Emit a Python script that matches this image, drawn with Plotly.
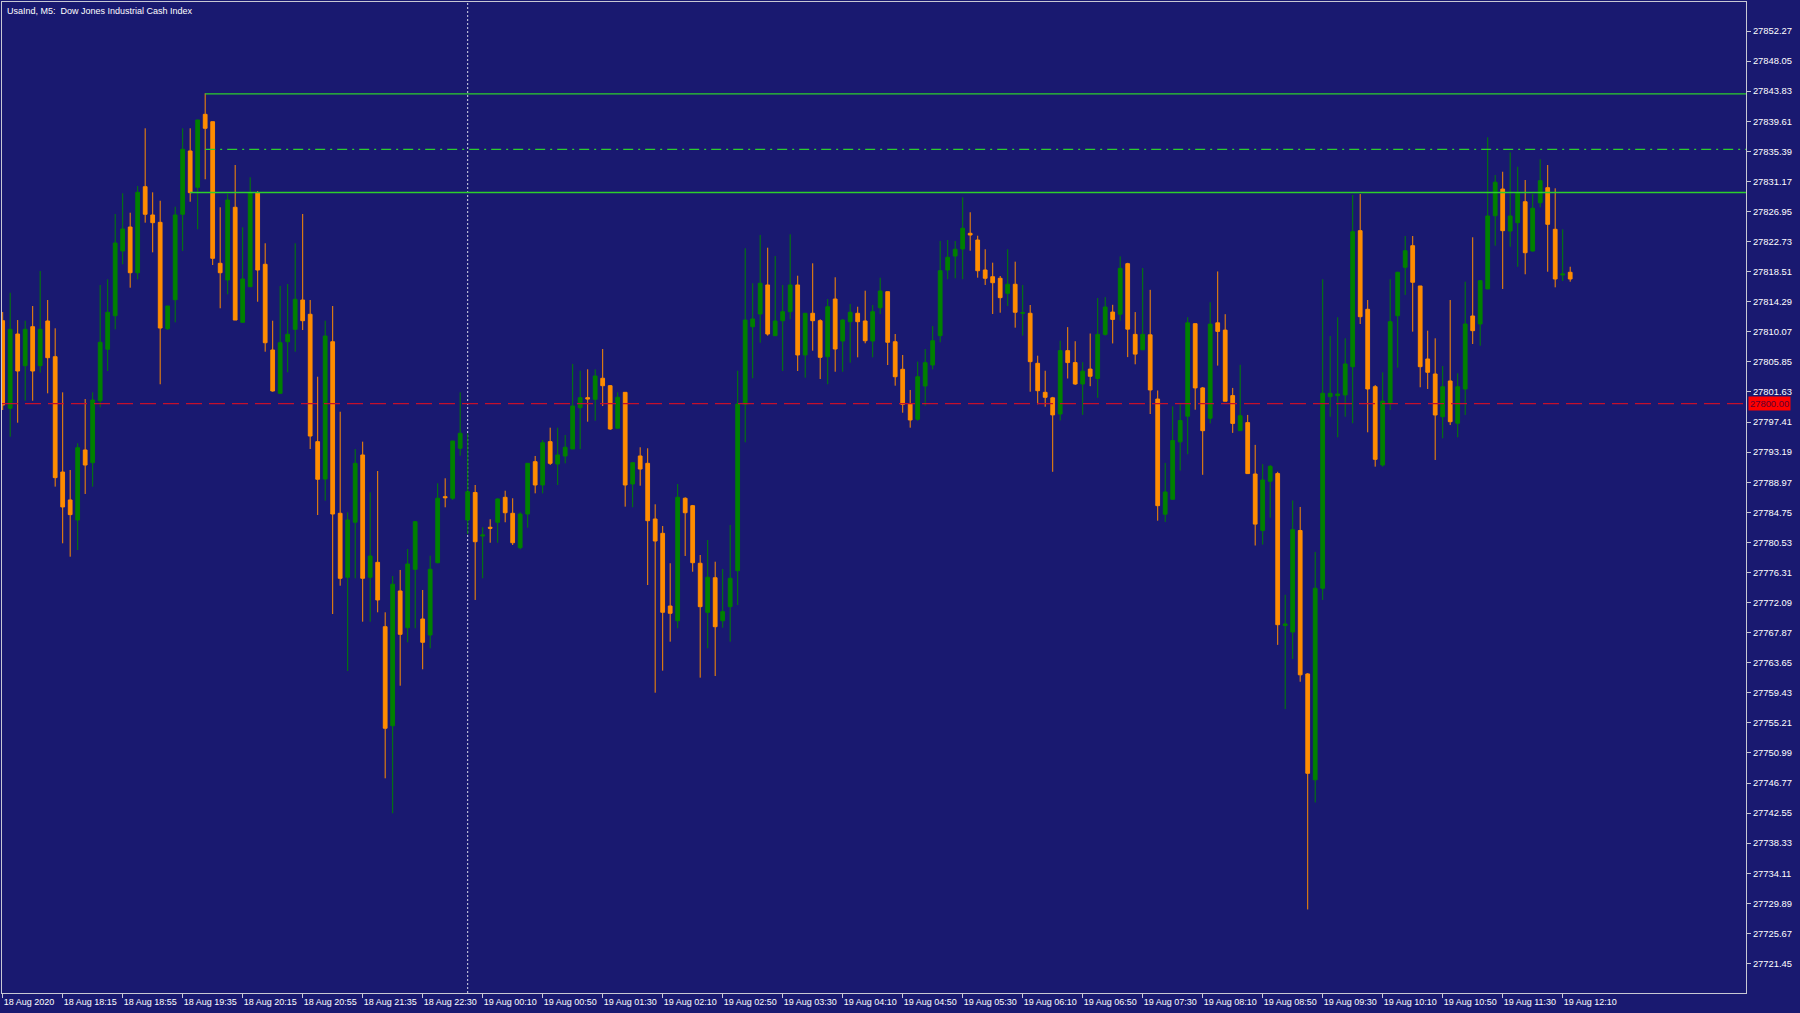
import plotly.graph_objects as go

title_text = "UsaInd, M5:  Dow Jones Industrial Cash Index"

open_ = [27811.63,27799.34,27809.76,27805.32,27810.79,27805.32,27811.59,27806.58,27790.40,27786.48,
27783.67,27793.49,27791.71,27800.40,27807.62,27812.33,27821.41,27824.77,27818.36,27830.43,
27826.46,27825.43,27810.51,27814.57,27826.56,27835.44,27830.34,27840.58,27839.55,27819.68,
27817.34,27827.54,27811.40,27816.40,27829.59,27819.54,27807.52,27801.44,27808.68,27810.42,
27814.53,27812.53,27794.66,27789.42,27808.68,27784.61,27775.63,27783.35,27792.79,27775.63,
27777.73,27768.70,27754.81,27773.71,27768.56,27776.75,27769.78,27767.54,27777.68,27786.94,
27786.72,27793.73,27783.67,27787.53,27781.42,27782.65,27783.35,27786.85,27784.61,27779.78,
27784.51,27791.85,27788.58,27794.66,27791.52,27792.65,27793.63,27799.42,27800.83,27800.60,
27803.55,27802.51,27796.54,27801.58,27788.72,27792.65,27791.62,27783.81,27781.80,27771.60,
27769.54,27786.72,27785.68,27777.60,27770.72,27775.57,27769.54,27771.51,27776.56,27799.90,
27810.79,27812.57,27816.64,27809.53,27811.63,27812.89,27816.64,27806.82,27812.67,27811.63,
27806.58,27814.67,27808.78,27811.49,27812.67,27811.59,27808.78,27813.45,27815.70,27808.68,
27804.81,27799.94,27797.80,27802.47,27805.41,27809.53,27818.74,27820.70,27821.69,27823.89,
27822.95,27818.74,27817.80,27817.58,27815.47,27816.74,27812.67,27812.67,27805.65,27801.58,
27800.81,27798.54,27807.43,27805.75,27802.75,27804.84,27803.52,27809.71,27812.84,27812.54,
27819.63,27809.71,27807.55,27809.65,27800.64,27784.48,27786.57,27794.63,27798.23,27811.21,
27802.20,27797.94,27811.33,27810.31,27801.12,27796.20,27797.33,27790.12,27782.20,27789.10,
27790.18,27768.86,27767.95,27782.20,27762.07,27747.22,27774.09,27800.97,27801.11,27801.21,
27805.18,27824.26,27813.23,27802.37,27791.38,27800.04,27812.33,27819.12,27822.15,27816.50,
27806.26,27804.15,27798.16,27803.17,27797.24,27802.05,27812.29,27811.17,27816.08,27826.36,
27830.10,27824.21,27825.38,27828.32,27821.41,27828.18,27830.29,27824.45,27818.04,27818.42]

high = [27812.85,27815.55,27811.72,27811.63,27813.69,27818.60,27814.53,27810.56,27801.58,27790.68,
27794.43,27800.64,27801.58,27816.64,27817.44,27826.60,27829.50,27826.78,27830.52,27838.62,
27829.64,27828.46,27813.69,27827.62,27838.62,27838.62,27839.79,27843.53,27839.55,27827.54,
27829.40,27833.47,27824.73,27831.75,27829.82,27822.49,27811.63,27816.50,27816.78,27822.49,
27826.60,27814.53,27803.77,27811.63,27813.69,27798.86,27784.75,27793.63,27794.66,27787.56,
27790.54,27770.72,27775.81,27776.66,27779.60,27783.53,27773.85,27778.66,27788.82,27789.52,
27794.75,27801.58,27795.83,27788.58,27782.65,27783.77,27786.72,27787.78,27786.72,27784.75,
27791.62,27792.65,27794.89,27796.62,27796.62,27795.59,27805.56,27804.61,27804.81,27804.81,
27807.66,27802.61,27801.58,27801.58,27791.76,27793.87,27793.73,27785.87,27782.83,27777.60,
27788.72,27786.85,27785.78,27778.76,27780.86,27777.82,27776.80,27782.97,27804.61,27821.79,
27816.88,27823.65,27821.87,27820.70,27816.64,27823.75,27817.94,27812.67,27819.68,27811.83,
27814.67,27817.72,27811.83,27813.97,27813.59,27815.84,27813.83,27817.66,27815.70,27809.76,
27806.82,27801.91,27805.88,27807.66,27810.88,27822.81,27822.95,27822.81,27828.94,27826.84,
27823.55,27821.65,27819.77,27817.90,27821.65,27819.91,27816.64,27813.83,27806.72,27804.61,
27800.94,27808.81,27810.73,27808.75,27805.81,27809.83,27814.81,27814.94,27813.86,27820.65,
27819.75,27812.84,27819.02,27815.96,27801.84,27791.68,27799.62,27799.91,27812.12,27811.21,
27802.33,27814.22,27818.54,27812.54,27802.20,27805.44,27798.41,27794.21,27791.51,27791.38,
27790.43,27773.18,27786.41,27785.50,27762.19,27779.19,27817.44,27809.48,27812.11,27809.16,
27829.26,27829.40,27814.53,27802.61,27804.39,27817.44,27818.50,27823.51,27823.51,27816.50,
27810.23,27809.16,27805.27,27814.53,27804.25,27817.10,27823.33,27817.34,27837.36,27832.07,
27832.53,27835.25,27833.23,27831.37,27829.40,27834.27,27833.47,27830.20,27824.45,27819.20]

low = [27799.10,27795.35,27797.32,27800.40,27800.40,27804.34,27801.44,27788.35,27780.40,27778.52,
27779.46,27787.32,27788.35,27799.48,27804.57,27810.42,27819.54,27816.26,27817.44,27825.38,
27821.22,27802.71,27810.32,27811.40,27821.41,27828.32,27824.45,27831.47,27819.44,27813.37,
27815.33,27811.72,27811.40,27816.40,27814.29,27807.28,27801.67,27801.44,27804.39,27807.28,
27810.32,27793.63,27784.37,27786.38,27770.48,27774.45,27762.48,27775.49,27769.40,27769.40,
27770.72,27747.43,27742.52,27760.42,27766.51,27768.48,27762.72,27765.67,27777.59,27785.45,
27786.48,27792.69,27781.70,27772.45,27775.49,27780.48,27780.48,27783.35,27780.16,27779.56,
27782.59,27787.41,27787.41,27791.38,27788.58,27791.62,27793.63,27793.63,27797.46,27797.60,
27799.66,27796.30,27796.54,27785.54,27785.45,27788.48,27774.55,27759.44,27762.53,27766.60,
27768.48,27778.62,27776.41,27761.55,27765.67,27761.78,27768.56,27766.60,27771.74,27794.57,
27803.55,27808.54,27809.53,27809.53,27804.57,27811.83,27804.57,27803.63,27807.42,27803.45,
27802.71,27804.47,27804.47,27805.74,27806.49,27808.46,27806.49,27812.57,27805.41,27802.51,
27798.72,27796.62,27797.60,27799.70,27804.81,27808.60,27817.44,27817.58,27817.44,27821.45,
27817.66,27816.64,27812.57,27812.75,27813.69,27810.65,27809.53,27801.67,27799.90,27799.56,
27790.43,27797.63,27803.52,27802.62,27798.41,27802.44,27800.81,27809.53,27808.44,27811.63,
27806.52,27805.51,27807.55,27798.54,27783.57,27783.39,27786.57,27790.60,27792.89,27799.14,
27790.01,27797.22,27805.33,27800.33,27795.89,27796.20,27790.18,27780.09,27780.22,27783.99,
27766.15,27757.14,27764.17,27760.98,27729.03,27744.04,27772.45,27798.16,27795.27,27798.16,
27797.24,27811.17,27795.97,27791.15,27791.15,27799.10,27805.04,27815.24,27810.09,27802.29,
27802.05,27792.09,27795.13,27796.99,27795.27,27798.40,27808.36,27808.12,27816.08,27822.15,
27816.08,27822.01,27819.20,27818.14,27821.31,27827.54,27818.50,27816.31,27817.20,27817.10]

close = [27799.80,27810.42,27804.57,27810.42,27804.57,27810.42,27806.44,27789.61,27785.50,27784.42,
27793.81,27791.38,27800.50,27808.60,27812.81,27822.53,27824.49,27818.36,27829.64,27826.56,
27825.38,27810.60,27813.69,27826.46,27835.67,27829.59,27839.79,27838.62,27820.38,27818.36,
27828.56,27811.72,27817.48,27829.59,27818.74,27808.54,27801.77,27808.54,27809.72,27814.63,
27811.63,27795.45,27789.38,27809.48,27784.51,27775.49,27783.67,27791.62,27775.49,27778.62,
27772.45,27754.45,27774.65,27767.63,27777.50,27783.43,27766.51,27776.75,27786.72,27786.80,
27794.75,27795.83,27787.64,27780.62,27781.56,27782.51,27786.62,27784.69,27780.48,27784.51,
27791.62,27788.58,27794.51,27791.62,27792.79,27793.87,27799.66,27800.83,27800.64,27803.87,
27802.51,27796.44,27800.88,27788.58,27791.71,27790.82,27783.57,27780.72,27770.72,27770.58,
27786.85,27784.69,27777.68,27771.51,27775.63,27768.70,27770.81,27775.49,27799.94,27811.72,
27811.87,27816.88,27809.76,27811.59,27812.89,27816.64,27806.82,27812.67,27811.63,27806.49,
27813.59,27807.66,27811.72,27812.81,27811.49,27808.82,27812.89,27815.80,27808.60,27803.77,
27799.90,27797.70,27803.77,27805.74,27808.82,27818.64,27820.52,27821.65,27824.59,27823.65,
27818.64,27817.58,27816.96,27814.86,27816.74,27812.81,27812.75,27805.88,27801.81,27800.88,
27798.41,27807.43,27805.75,27802.75,27804.55,27803.83,27809.71,27813.55,27811.81,27818.97,
27810.44,27806.94,27809.71,27801.91,27785.68,27787.60,27794.81,27797.63,27811.33,27802.20,
27796.20,27811.15,27810.13,27800.33,27797.22,27798.30,27790.18,27783.09,27789.28,27791.20,
27768.98,27769.09,27782.31,27761.95,27748.13,27774.09,27801.44,27801.44,27801.35,27805.56,
27824.12,27812.19,27802.05,27792.18,27800.36,27811.49,27818.42,27821.45,27817.02,27805.18,
27804.39,27798.40,27802.37,27797.46,27802.37,27811.17,27810.23,27817.24,27826.32,27831.05,
27824.26,27826.32,27829.50,27821.17,27827.40,27831.27,27825.15,27817.48,27818.18,27817.48]

bar_index = list(range(len(open_)))

time_tick_pos = [0, 8, 16, 24, 32, 40, 48, 56, 64, 72, 80, 88, 96, 104, 112, 120, 128,
                 136, 144, 152, 160, 168, 176, 184, 192, 200, 208]
time_tick_text = ["18 Aug 2020", "18 Aug 18:15", "18 Aug 18:55", "18 Aug 19:35", "18 Aug 20:15",
                  "18 Aug 20:55", "18 Aug 21:35", "18 Aug 22:30", "19 Aug 00:10", "19 Aug 00:50",
                  "19 Aug 01:30", "19 Aug 02:10", "19 Aug 02:50", "19 Aug 03:30", "19 Aug 04:10",
                  "19 Aug 04:50", "19 Aug 05:30", "19 Aug 06:10", "19 Aug 06:50", "19 Aug 07:30",
                  "19 Aug 08:10", "19 Aug 08:50", "19 Aug 09:30", "19 Aug 10:10", "19 Aug 10:50",
                  "19 Aug 11:30", "19 Aug 12:10"]

price_ticks = ["27721.45", "27725.67", "27729.89", "27734.11", "27738.33", "27742.55", "27746.77",
               "27750.99", "27755.21", "27759.43", "27763.65", "27767.87", "27772.09", "27776.31",
               "27780.53", "27784.75", "27788.97", "27793.19", "27797.41", "27801.63", "27805.85",
               "27810.07", "27814.29", "27818.51", "27822.73", "27826.95", "27831.17", "27835.39",
               "27839.61", "27843.83", "27848.05", "27852.27"]

# horizontal objects: (start bar, price)
high_line = (27, 27843.45)
mid_dashdot_line = (27, 27835.67)
low_line = (25, 27829.62)
price_line = 27800.00
day_separator_bar = 62

BG = "#191970"
FG = "#ffffff"
FRAME = "#c8c8d4"
BULL = "#008000"
BEAR = "#ff8c00"
LIME = "#2ccf2c"
RED = "#c4102c"

x_range = [-0.09, 232.44]
y_range = [27717.31, 27856.34]

fig = go.Figure()
fig.add_trace(go.Candlestick(
    x=bar_index, open=open_, high=high, low=low, close=close,
    increasing=dict(line=dict(color=BULL, width=1), fillcolor=BULL),
    decreasing=dict(line=dict(color=BEAR, width=1), fillcolor=BEAR),
    whiskerwidth=0, hoverinfo="skip", showlegend=False,
))

shapes = []
for (x0, yv), dash, w in [(high_line, "solid", 1.4), (mid_dashdot_line, "10px,5px,2px,5px", 1.4),
                          (low_line, "solid", 1.4)]:
    shapes.append(dict(type="line", xref="x", yref="y", x0=x0, x1=x_range[1], y0=yv, y1=yv,
                       line=dict(color=LIME, width=w, dash=dash), layer="above"))
shapes.append(dict(type="line", xref="x", yref="y", x0=x_range[0], x1=x_range[1],
                   y0=price_line, y1=price_line,
                   line=dict(color=RED, width=1.2, dash="16px,7px"), layer="above"))
shapes.append(dict(type="line", xref="x", yref="paper", x0=day_separator_bar, x1=day_separator_bar,
                   y0=0, y1=1, line=dict(color="#d8d8e8", width=1, dash="2px,2px"), layer="below"))

fig.update_layout(
    width=1800, height=1013,
    margin=dict(l=2, r=54, t=2, b=20, autoexpand=False),
    paper_bgcolor=BG, plot_bgcolor=BG,
    showlegend=False,
    boxgap=0.5, boxgroupgap=0,
    shapes=shapes,
    font=dict(family="Liberation Sans, Arial, sans-serif", color=FG, size=9),
    xaxis=dict(
        range=x_range, rangeslider=dict(visible=False), showgrid=False, zeroline=False,
        tickmode="array", tickvals=time_tick_pos, ticktext=time_tick_text,
        ticks="outside", ticklen=4, tickcolor=FRAME, tickwidth=1,
        ticklabelposition="outside right", tickangle=0, automargin=False,
        tickfont=dict(size=9, color=FG),
        showline=True, linecolor=FRAME, linewidth=1, mirror=True,
        fixedrange=True,
    ),
    yaxis=dict(
        range=y_range, side="right", showgrid=False, zeroline=False,
        tickmode="array", tickvals=[float(v) for v in price_ticks], ticktext=price_ticks,
        ticks="outside", ticklen=4, tickcolor=FRAME, tickwidth=1, automargin=False,
        tickfont=dict(size=9.4, color=FG),
        showline=True, linecolor=FRAME, linewidth=1, mirror=True,
        fixedrange=True,
    ),
    annotations=[
        dict(text=title_text, xref="paper", yref="paper", x=0, y=1, xanchor="left", yanchor="top",
             xshift=3, yshift=-2, showarrow=False, font=dict(size=9, color=FG)),
        dict(text="%.2f" % price_line, xref="paper", yref="y", x=1, y=price_line,
             xanchor="left", yanchor="middle", xshift=2, showarrow=False,
             bgcolor="#ff0000", borderpad=1, font=dict(size=9.4, color="#600030")),
    ],
)

fig.write_html("out.html", config={"displayModeBar": False},
               post_script="document.body.style.margin='0';document.body.style.background='#191970';")
